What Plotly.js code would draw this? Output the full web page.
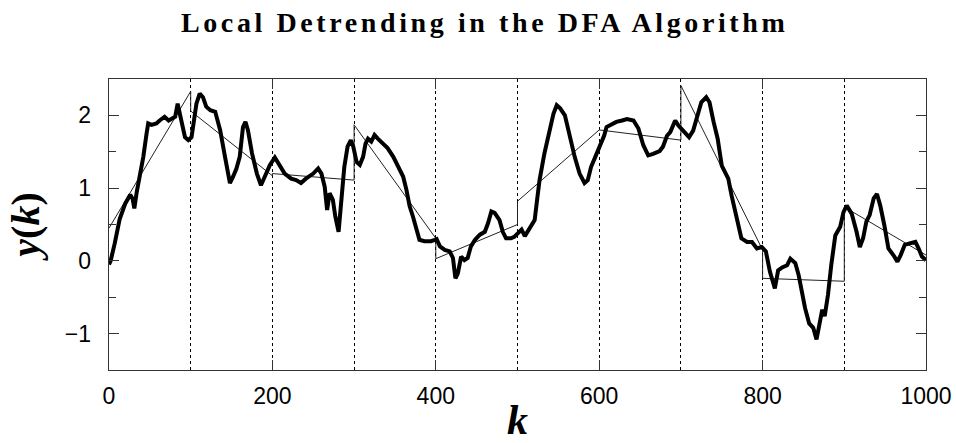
<!DOCTYPE html>
<html>
<head>
<meta charset="utf-8">
<script src="https://cdn.plot.ly/plotly-3.0.1.min.js"></script>
<style>
  html, body { margin: 0; padding: 0; background: #fff; }
  #chart { width: 956px; height: 443px; }
  .gtitle { letter-spacing: 3.6px; }
</style>
</head>
<body>
<div id="chart"></div>
<script>
// Profile y(k) (thick curve)
const profileK = [0, 2, 7, 13, 20, 26, 29, 31, 34, 38, 42, 46, 48, 52, 58, 62, 68, 73, 77, 81, 84, 87, 90, 93, 97,
  101, 104, 107, 111, 115, 119, 124, 130, 136, 142, 148, 152, 156, 160, 164, 167, 170, 175, 181, 186, 191, 197,
  203, 209, 215, 223, 229, 235, 241, 250, 256, 260, 264, 267, 270, 274, 277, 281, 284, 288, 292, 296, 299,
  303, 307, 311, 314, 317, 321, 325, 329, 335, 341, 348, 354, 360, 364, 368, 372, 376, 380, 386, 394, 399,
  401, 405, 411, 417, 421, 424, 427, 431, 435, 439, 443, 448, 454, 460, 464, 468, 472, 478, 482, 486, 492, 496,
  501, 505, 509, 515, 521, 524, 527, 533, 539, 544, 548, 552, 558, 564, 570, 576, 582, 586, 590, 596,
  601, 606, 609, 615, 621, 628, 634, 642, 648, 654, 660, 666, 674, 678, 683, 687, 693, 697,
  700, 705, 710, 715, 719, 725, 731, 735, 740, 745, 750, 754, 758, 762, 766, 770, 774, 781, 787, 793, 799,
  804, 809, 815, 819, 824, 830, 834, 840, 844, 848, 852, 857, 862, 866, 870, 873, 876, 880, 884, 889, 895, 899,
  903, 909, 915, 919, 923, 927, 931, 936, 940, 944, 949, 954, 960, 965, 969, 974, 980, 987, 991, 995, 1000];
const profileY = [-0.05, 0.0, 0.24, 0.57, 0.79, 0.91, 0.85, 0.72, 0.95, 1.16, 1.43, 1.75, 1.89, 1.87, 1.89, 1.93, 1.98, 1.93, 1.96, 1.98, 2.16, 2.02, 1.84, 1.70, 1.66,
  1.70, 1.93, 2.16, 2.30, 2.25, 2.12, 2.07, 2.05, 1.80, 1.43, 1.07, 1.16, 1.27, 1.43, 1.84, 1.91, 1.80, 1.48, 1.20, 1.04, 1.16, 1.32,
  1.42, 1.32, 1.20, 1.13, 1.11, 1.07, 1.13, 1.20, 1.27, 1.20, 1.02, 0.70, 0.93, 0.84, 0.61, 0.40, 0.79, 1.29, 1.57, 1.66, 1.57,
  1.36, 1.32, 1.43, 1.61, 1.68, 1.64, 1.73, 1.68, 1.61, 1.55, 1.43, 1.29, 1.16, 0.98, 0.75, 0.61, 0.43, 0.29, 0.27, 0.27, 0.29,
  0.30, 0.20, 0.15, 0.13, 0.04, -0.24, -0.17, 0.06, 0.01, 0.04, 0.20, 0.29, 0.36, 0.40, 0.52, 0.68, 0.66, 0.56, 0.40, 0.31, 0.31, 0.33,
  0.38, 0.43, 0.34, 0.45, 0.56, 0.84, 1.11, 1.48, 1.80, 2.02, 2.14, 2.10, 2.00, 1.71, 1.43, 1.20, 1.07, 1.11, 1.29, 1.45,
  1.58, 1.72, 1.84, 1.88, 1.91, 1.93, 1.95, 1.93, 1.82, 1.59, 1.45, 1.47, 1.51, 1.57, 1.72, 1.77, 1.93, 1.86,
  1.82, 1.77, 1.70, 1.79, 1.95, 2.18, 2.25, 2.18, 1.91, 1.68, 1.31, 1.22, 1.13, 0.90, 0.72, 0.54, 0.31, 0.26, 0.26, 0.17, 0.19,
  0.13, -0.15, -0.38, -0.13, -0.09, -0.06, 0.03, -0.03, -0.19, -0.42, -0.65, -0.86, -0.92, -1.08, -0.86, -0.67, -0.76, -0.47, -0.06, 0.35, 0.47, 0.67,
  0.76, 0.65, 0.40, 0.19, 0.31, 0.54, 0.63, 0.86, 0.92, 0.76, 0.49, 0.17, 0.08, -0.01, 0.08, 0.22, 0.24, 0.26, 0.17, 0.06, 0.01];

// Local linear fits in boxes of size 100 (thin line)
const fitK = [0, 100, 100, 200, 200, 300, 300, 400, 400, 500, 500, 600, 600, 700, 700, 800, 800, 900, 900, 1000];
const fitY = [0.45, 2.33, 2.06, 1.17, 1.20, 1.11, 1.87, 0.31, 0.03, 0.50, 0.82, 1.80, 1.80, 1.66, 2.41, 0.15, -0.24, -0.28, 0.74, 0.08];

const xTickVals = [0, 200, 400, 600, 800, 1000];
const yTickVals = [-1, 0, 1, 2];

const traces = [
  { x: fitK, y: fitY, type: 'scatter', mode: 'lines',
    line: { color: '#222', width: 1 }, hoverinfo: 'skip' },
  { x: profileK, y: profileY, type: 'scatter', mode: 'lines',
    line: { color: '#000', width: 4, shape: 'linear' }, hoverinfo: 'skip' }
];

const axisCommon = {
  showline: true, linecolor: '#333', linewidth: 1.3, mirror: 'ticks',
  ticks: 'inside', ticklen: 10, tickcolor: '#333', tickwidth: 1.2,
  zeroline: false,
  tickfont: { family: 'Liberation Sans, Arial, sans-serif', size: 23, color: '#000' }
};

const layout = {
  width: 956, height: 443,
  paper_bgcolor: '#fff', plot_bgcolor: '#fff',
  showlegend: false,
  margin: { l: 109, r: 30, t: 79, b: 73 },
  title: {
    text: 'Local Detrending in the DFA Algorithm',
    font: { family: 'Liberation Serif, Times New Roman, serif', size: 28, color: '#000', weight: 'bold' },
    x: 0.507, xref: 'container', xanchor: 'center',
    y: 0.95, yref: 'container', yanchor: 'middle'
  },
  xaxis: Object.assign({}, axisCommon, {
    range: [0, 1000], tickvals: xTickVals, ticktext: xTickVals.map(String),
    showgrid: true, gridcolor: '#000', griddash: 'dot', gridwidth: 1,
    minor: { dtick: 100, tick0: 0, showgrid: true, gridcolor: '#000', griddash: 'dot', gridwidth: 1, ticks: '' },
    ticklabelstandoff: 5,
    title: { text: '<i>k</i>', font: { family: 'Liberation Serif, Times New Roman, serif', size: 42, color: '#000', weight: 'bold' }, standoff: 6 }
  }),
  yaxis: Object.assign({}, axisCommon, {
    range: [-1.5, 2.5], tickvals: yTickVals, ticktext: ['\u22121', '0', '1', '2'],
    showgrid: false,
    minor: { dtick: 0.5, tick0: 0, ticks: 'inside', ticklen: 7, tickcolor: '#333', tickwidth: 1.2, showgrid: false },
    ticklabelstandoff: 12,
    title: { text: '<i>y</i>(<i>k</i>)', font: { family: 'Liberation Serif, Times New Roman, serif', size: 40, color: '#000', weight: 'bold' }, standoff: 13 }
  })
};

Plotly.newPlot('chart', traces, layout, { displayModeBar: false, staticPlot: true });
</script>
</body>
</html>
